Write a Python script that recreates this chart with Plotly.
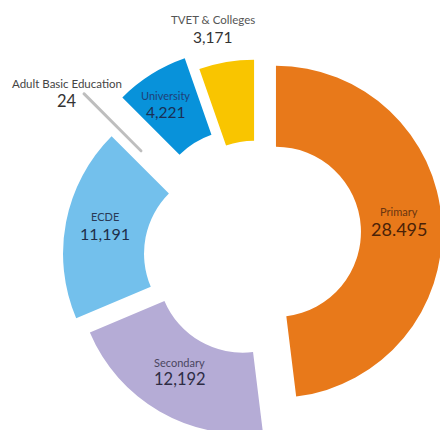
import math
import plotly.graph_objects as go

labels = ["Primary", "Secondary", "ECDE", "Adult Basic Education", "University", "TVET & Colleges"]
values = [28495, 12192, 11191, 24, 4221, 3171]
value_text = ["28.495", "12,192", "11,191", "24", "4,221", "3,171"]
colors = ["#E8791A", "#B5ACD6", "#73C0EC", "#BEBEBE", "#0892DA", "#F9C500"]

# styling
label_colors = ["#6A3510", "#4A4660", "#2A3A55", "#444444", "#1F3F78", "#555555"]
value_colors = ["#4A2208", "#2E2C44", "#1E2E4A", "#333333", "#1A2F55", "#333333"]
label_sizes = [11, 11, 11, 11.5, 11, 11.5]
value_sizes = [18, 16.5, 16, 16.5, 15.5, 15.5]
pull_px = [19, 28.6, 28.5, 62, 33, 17.5]          # explode distance of each slice
nudge_px = [(0, -10), (0, 0), (0, 16), (-12, 12), (0, 0), (0, 0)]  # hand-placed offsets
label_r = [143.9, 149, 153.1, 242.8, 166.8, 219]  # px from pie centre
label_delta = [-5.7, 1.1, -4.1, -6.7, -1.2, -2.0] # degrees from slice mid-angle

W, H = 540, 520
cx, cy, r = 257, 243, 166
pulls = [p / r for p in pull_px]
half = r * (1 + max(pulls))

fig = go.Figure()
for i, lab in enumerate(labels):
    nx, ny = nudge_px[i]
    slice_colors = [c if j == i else "rgba(0,0,0,0)" for j, c in enumerate(colors)]
    fig.add_trace(go.Pie(
        name=lab,
        labels=labels,
        values=values,
        sort=False,
        direction="clockwise",
        rotation=0,
        hole=0.512,
        pull=pulls,
        automargin=False,
        marker=dict(colors=slice_colors,
                    line=dict(color=colors[i],
                              width=[2.5 if (j == i and values[j] / sum(values) < 0.01) else 0
                                     for j in range(len(values))])),
        textinfo="none",
        hoverinfo="skip",
        showlegend=False,
        domain=dict(x=[(cx + nx - half) / W, (cx + nx + half) / W],
                    y=[1 - (cy + ny + half) / H, 1 - (cy + ny - half) / H]),
    ))

# labels positioned from the slice mid-angles
total = sum(values)
annotations = []
cum = 0
font_family = "Lato, Open Sans, sans-serif"
for i, v in enumerate(values):
    mid = (cum + v / 2) / total * 360
    cum += v
    a = math.radians(mid + label_delta[i])
    px = cx + label_r[i] * math.sin(a)
    py = cy - label_r[i] * math.cos(a)
    annotations.append(dict(
        x=px / W, y=1 - (py - 8.5) / H, xref="paper", yref="paper",
        text=labels[i], showarrow=False, xanchor="center", yanchor="middle",
        font=dict(family=font_family, size=label_sizes[i], color=label_colors[i])))
    annotations.append(dict(
        x=px / W, y=1 - (py + 8.5) / H, xref="paper", yref="paper",
        text=value_text[i], showarrow=False, xanchor="center", yanchor="middle",
        font=dict(family=font_family, size=value_sizes[i], color=value_colors[i])))

fig.update_layout(
    width=W, height=H,
    autosize=False,
    margin=dict(l=0, r=0, t=0, b=0, pad=0, autoexpand=False),
    paper_bgcolor="white",
    plot_bgcolor="white",
    showlegend=False,
    annotations=annotations,
)

fig.write_html("out.html")
